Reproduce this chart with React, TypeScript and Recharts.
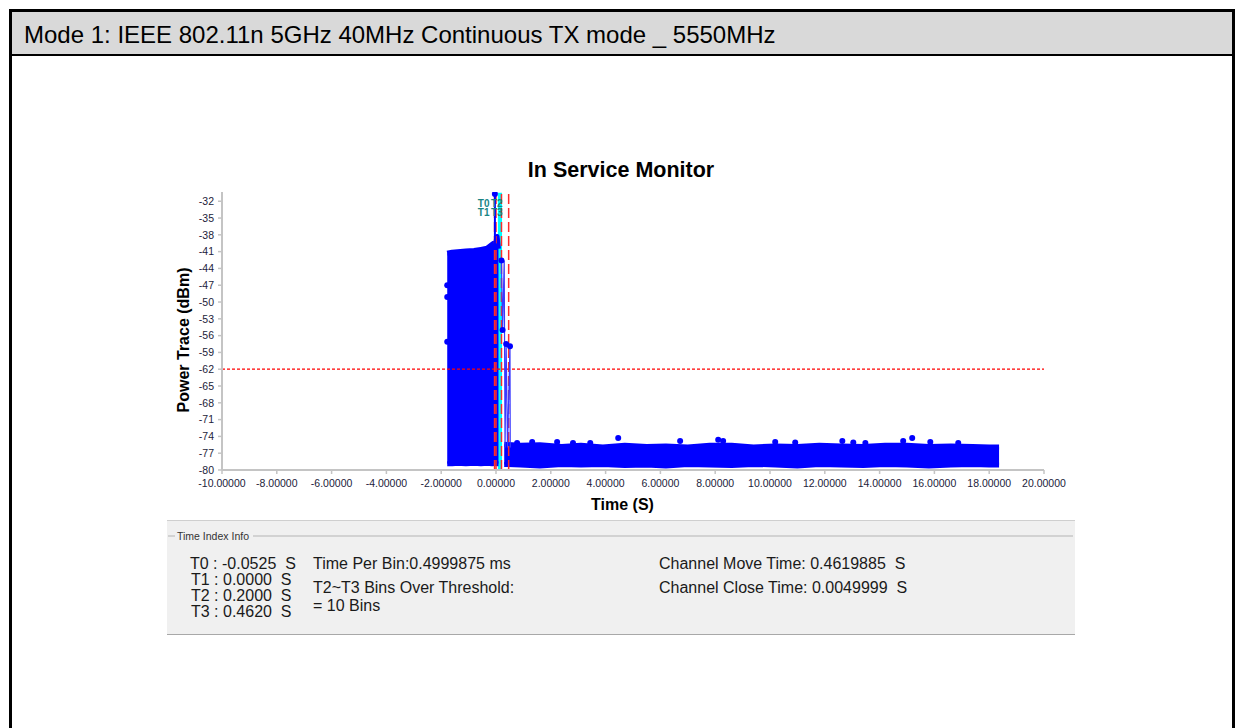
import React from 'react';
import {
  ComposedChart,
  Area,
  Scatter,
  XAxis,
  YAxis,
  ReferenceLine,
  ReferenceArea,
} from 'recharts';

// ---------- data ----------
const xTicks = [-10, -8, -6, -4, -2, 0, 2, 4, 6, 8, 10, 12, 14, 16, 18, 20];
const yTicks = [-32, -35, -38, -41, -44, -47, -50, -53, -56, -59, -62, -65, -68, -71, -74, -77, -80];

// active transmission block (envelope of the dense trace)
const blockTime = [-1.78, -1.6, -1.4, -1.1, -0.8, -0.55, -0.33, -0.14, 0.0, 0.04, 0.09];
const blockHigh = [-41.3, -41.1, -41.0, -40.9, -40.8, -40.6, -40.4, -39.7, -39.2, -38.3, -40.5];
const blockLow = [-78.9, -78.9, -78.8, -78.9, -78.8, -78.9, -78.8, -78.9, -78.8, -78.9, -78.9];

// noise floor after channel move (envelope)
const noiseTime = [0.3, 0.9, 1.6, 2.4, 3.1, 3.9, 4.7, 5.5, 6.2, 7.0, 7.8, 8.6, 9.4, 10.2, 11.0, 11.8, 12.6, 13.4, 14.2, 15.0, 15.8, 16.6, 17.4, 18.0, 18.36];
const noiseHigh = [-75.4, -75.6, -75.5, -75.8, -75.6, -75.9, -75.6, -75.8, -75.7, -75.9, -75.6, -75.6, -75.9, -75.7, -75.8, -75.6, -75.7, -75.8, -75.6, -75.6, -75.8, -75.7, -75.8, -75.9, -75.9];
const noiseLow = [-79.0, -79.1, -79.3, -79.0, -79.1, -79.0, -79.2, -79.1, -79.3, -79.0, -79.1, -79.2, -79.0, -79.1, -79.3, -79.0, -79.1, -79.2, -79.0, -79.1, -79.3, -79.1, -79.0, -79.1, -79.1];

// isolated trace points sticking out of the envelopes
const peakTime = [-1.78, -1.78, -1.78, 0.77, 1.32, 2.23, 2.81, 3.44, 4.46, 6.72, 8.11, 8.29, 10.19, 10.92, 12.64, 13.04, 13.48, 14.86, 15.19, 15.85, 16.87];
const peakValue = [-47.0, -49.1, -57.1, -75.2, -75.0, -75.0, -75.2, -75.2, -74.3, -74.8, -74.6, -74.8, -75.0, -75.1, -74.8, -75.1, -75.2, -74.8, -74.3, -75.0, -75.2];

// top spike at T0
const spikeTime = [-0.04, -0.04];
const spikeValue = [-40.0, -30.7];

// trailing transitions after the block
const tailTime = [0.1, 0.2, 0.24, 0.3, 0.33, 0.37, 0.42, 0.51, 0.52];
const tailValue = [-42.2, -42.6, -55.0, -42.6, -76.0, -57.5, -76.0, -57.9, -76.0];
const tailDotTime = [0.24, 0.37, 0.51, 0.2];
const tailDotValue = [-55.0, -57.5, -57.9, -42.6];

// time markers
const markerNames = ['T0', 'T1', 'T2', 'T3'];
const markerTimes = [-0.0525, 0.0, 0.2, 0.462];
const markerLabelTime = [-0.45, -0.45, 0.03, 0.03];
const markerLabelLevel = [-32.4, -34.0, -32.4, -34.0];

const threshold = -62;
const cyanBandX = [0.07, 0.22];

const infoLeft = ['T0 : -0.0525  S', 'T1 : 0.0000  S', 'T2 : 0.2000  S', 'T3 : 0.4620  S'];
const infoMid = ['Time Per Bin:0.4999875 ms', 'T2~T3 Bins Over Threshold:', '= 10 Bins'];
const infoRight = ['Channel Move Time: 0.4619885  S', 'Channel Close Time: 0.0049999  S'];

// ---------- derived tables ----------
const blockData = blockTime.map((t, i) => ({ t, range: [blockLow[i], blockHigh[i]] }));
const noiseData = noiseTime.map((t, i) => ({ t, range: [noiseLow[i], noiseHigh[i]] }));
const peakData = peakTime.map((t, i) => ({ t, v: peakValue[i] }));
const spikeData = spikeTime.map((t, i) => ({ t, v: spikeValue[i] }));
const tailData = tailTime.map((t, i) => ({ t, v: tailValue[i] }));
const tailDotData = tailDotTime.map((t, i) => ({ t, v: tailDotValue[i] }));
const markerData = markerLabelTime.map((t, i) => ({ t, v: markerLabelLevel[i], name: markerNames[i] }));

const BLUE = '#0000ff';
const FONT = '"Liberation Sans", Arial, Helvetica, sans-serif';

const Dot = (p: any) => <circle cx={p.cx} cy={p.cy} r={3} fill={BLUE} />;
const NoDot = () => <g />;
const MarkerLabel = (p: any) => (
  <text
    x={p.cx}
    y={p.cy + 3.5}
    textAnchor="middle"
    fontSize={10}
    fontWeight="bold"
    fill="#1a8585"
    fontFamily={FONT}
  >
    {p.payload.name}
  </text>
);

export default function App() {
  return (
    <div
      style={{
        position: 'absolute',
        left: 0,
        top: 0,
        width: 1239,
        height: 728,
        background: '#ffffff',
        overflow: 'hidden',
        fontFamily: FONT,
      }}
    >
      {/* frame */}
      <div
        style={{
          position: 'absolute',
          left: 9,
          top: 9,
          width: 1226,
          height: 760,
          border: '3px solid #000',
          boxSizing: 'border-box',
        }}
      />
      <div
        style={{
          position: 'absolute',
          left: 12,
          top: 12,
          width: 1220,
          height: 42,
          background: '#d9d9d9',
          borderBottom: '2px solid #000',
        }}
      />
      {/* info panel */}
      <div
        style={{
          position: 'absolute',
          left: 167,
          top: 520,
          width: 908,
          height: 115,
          background: '#f0f0f0',
          borderTop: '1px solid #cfcfcf',
          borderBottom: '1px solid #a8a8a8',
          boxSizing: 'border-box',
        }}
      />

      <div style={{ position: 'absolute', left: 0, top: 0 }}>
        <ComposedChart
          width={1239}
          height={728}
          margin={{ top: 192, right: 195, bottom: 228, left: 162 }}
        >
          <XAxis
            dataKey="t"
            type="number"
            domain={[-10, 20]}
            ticks={xTicks}
            interval={0}
            allowDataOverflow
            height={30}
            tickFormatter={(v: number) => v.toFixed(5)}
            tick={{ fontSize: 10.5, fill: '#1c1c3a', fontFamily: FONT }}
            tickSize={4}
            tickMargin={6}
            axisLine={{ stroke: '#c4c4c4', strokeWidth: 2 }}
            tickLine={{ stroke: '#c4c4c4', strokeWidth: 1.5 }}
          />
          <YAxis
            type="number"
            domain={[-80, -30.35]}
            ticks={yTicks}
            interval={0}
            allowDataOverflow
            width={60}
            tick={{ fontSize: 10.5, fill: '#1c1c3a', fontFamily: FONT }}
            tickSize={4}
            tickMargin={4}
            axisLine={{ stroke: '#c4c4c4', strokeWidth: 2 }}
            tickLine={{ stroke: '#c4c4c4', strokeWidth: 1.5 }}
          />
          <ReferenceArea
            x1={cyanBandX[0]}
            x2={cyanBandX[1]}
            y1={-80}
            y2={-30.5}
            fill="#00ffff"
            fillOpacity={1}
            stroke="none"
          />
          <Area
            data={blockData}
            dataKey="range"
            type="linear"
            stroke={BLUE}
            strokeWidth={5}
            strokeLinejoin="round"
            fill={BLUE}
            fillOpacity={1}
            dot={false}
            activeDot={false}
            isAnimationActive={false}
          />
          <Area
            data={noiseData}
            dataKey="range"
            type="linear"
            stroke={BLUE}
            strokeWidth={5}
            strokeLinejoin="round"
            fill={BLUE}
            fillOpacity={1}
            dot={false}
            activeDot={false}
            isAnimationActive={false}
          />
          <Scatter
            data={tailData}
            dataKey="v"
            line={{ stroke: '#3a3aff', strokeWidth: 1.2 }}
            lineType="joint"
            shape={NoDot}
            isAnimationActive={false}
          />
          <Scatter
            data={spikeData}
            dataKey="v"
            line={{ stroke: BLUE, strokeWidth: 2 }}
            lineType="joint"
            shape={Dot}
            isAnimationActive={false}
          />
          <Scatter data={peakData} dataKey="v" shape={Dot} isAnimationActive={false} />
          <Scatter data={tailDotData} dataKey="v" shape={Dot} isAnimationActive={false} />
          <ReferenceLine
            y={threshold}
            stroke="#ff0000"
            strokeWidth={1.2}
            strokeDasharray="3 2"
          />
          {markerTimes.map((t, i) => (
            <ReferenceLine
              key={markerNames[i]}
              x={t}
              stroke="#ff2a2a"
              strokeWidth={1.5}
              strokeDasharray="10 4"
            />
          ))}
          <Scatter data={markerData} dataKey="v" shape={MarkerLabel} isAnimationActive={false} />
        </ComposedChart>
      </div>

      {/* texts */}
      <svg
        width={1239}
        height={728}
        style={{ position: 'absolute', left: 0, top: 0, pointerEvents: 'none' }}
        fontFamily={FONT}
      >
        <text x={24} y={43} fontSize={24} fill="#000">
          Mode 1: IEEE 802.11n 5GHz 40MHz Continuous TX mode _ 5550MHz
        </text>
        <text x={621} y={177} fontSize={21.5} fontWeight="bold" textAnchor="middle" fill="#000">
          In Service Monitor
        </text>
        <text
          x={188.5}
          y={340}
          fontSize={16}
          fontWeight="bold"
          textAnchor="middle"
          fill="#000"
          transform="rotate(-90 188.5 340)"
        >
          Power Trace (dBm)
        </text>
        <text x={622.5} y={510} fontSize={16} fontWeight="bold" textAnchor="middle" fill="#000">
          Time (S)
        </text>

        {/* group box */}
        <line x1={168} y1={536} x2={175} y2={536} stroke="#b4b4b4" />
        <line x1={253} y1={536} x2={1073} y2={536} stroke="#b4b4b4" />
        <text x={177} y={540} fontSize={10.5} fill="#333">
          Time Index Info
        </text>

        {infoLeft.map((s, i) => (
          <text key={s} x={i === 0 ? 190 : 191} y={569 + i * 16} fontSize={16} fill="#1a1a1a" style={{ whiteSpace: 'pre' }}>
            {s}
          </text>
        ))}
        {infoMid.map((s, i) => (
          <text key={s} x={313} y={[569, 593, 611][i]} fontSize={16} fill="#1a1a1a" style={{ whiteSpace: 'pre' }}>
            {s}
          </text>
        ))}
        {infoRight.map((s, i) => (
          <text key={s} x={659} y={569 + i * 24} fontSize={16} fill="#1a1a1a" style={{ whiteSpace: 'pre' }}>
            {s}
          </text>
        ))}
      </svg>
    </div>
  );
}
